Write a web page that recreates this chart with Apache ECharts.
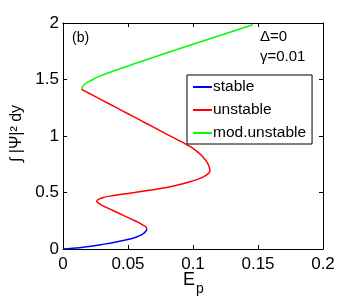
<!DOCTYPE html>
<html>
<head>
<meta charset="utf-8">
<script src="https://cdn.jsdelivr.net/npm/echarts@6/dist/echarts.min.js"></script>
<style>html,body{margin:0;padding:0;background:#fff}#c{width:357px;height:301px}</style>
</head>
<body>
<div id="c"></div>
<script>
// stable branch
var stableX = [0, 0.006, 0.0128, 0.02, 0.03, 0.04, 0.049, 0.055, 0.059, 0.062, 0.0637, 0.0645];
var stableY = [0, 0.005, 0.012, 0.022, 0.04, 0.06, 0.082, 0.1, 0.118, 0.138, 0.157, 0.177];
// unstable branch
var unstableX = [0.0645, 0.0638, 0.0615, 0.058, 0.053, 0.048, 0.043, 0.038, 0.033, 0.029, 0.0268, 0.026, 0.0265, 0.028, 0.031, 0.036, 0.045, 0.055, 0.065, 0.075, 0.085, 0.093, 0.099, 0.104, 0.108, 0.1105, 0.1122, 0.113, 0.1125, 0.111, 0.108, 0.104, 0.1, 0.095, 0.09, 0.08, 0.07, 0.06, 0.05, 0.04, 0.03, 0.022, 0.018, 0.0155, 0.0148, 0.0145];
var unstableY = [0.177, 0.195, 0.212, 0.235, 0.262, 0.289, 0.316, 0.343, 0.37, 0.393, 0.41, 0.421, 0.433, 0.444, 0.455, 0.468, 0.484, 0.5, 0.517, 0.535, 0.558, 0.58, 0.6, 0.618, 0.638, 0.655, 0.672, 0.69, 0.725, 0.765, 0.81, 0.855, 0.89, 0.924, 0.955, 1.015, 1.076, 1.136, 1.197, 1.257, 1.318, 1.366, 1.39, 1.405, 1.41, 1.416];
// modulationally unstable branch
var modX = [0.0145, 0.015, 0.0169, 0.02, 0.024, 0.0285, 0.034, 0.04, 0.05, 0.063, 0.08, 0.1, 0.12, 0.146];
var modY = [1.416, 1.435, 1.46, 1.483, 1.507, 1.53, 1.555, 1.58, 1.62, 1.671, 1.737, 1.812, 1.887, 1.985];
var xTicks = [0, 0.05, 0.1, 0.15, 0.2];
var yTicks = [0, 0.5, 1, 1.5, 2];

function zip(a, b) { return a.map(function (v, i) { return [v, b[i]]; }); }
var FONT = "'Liberation Sans', Arial, Helvetica, sans-serif";
var chart = echarts.init(document.getElementById('c'), null, {renderer: 'canvas'});
var axisCommon = {
  axisLine: {show: true, onZero: false, lineStyle: {color: '#000', width: 1}},
  axisTick: {show: true, inside: true, length: 4, lineStyle: {color: '#000'}},
  splitLine: {show: false}
};
function lineSeries(name, xs, ys, color) {
  return {name: name, type: 'line', data: zip(xs, ys), showSymbol: false, symbol: 'none',
    smooth: 0.4, lineStyle: {color: color, width: 1.5}, itemStyle: {color: color}};
}
chart.setOption({
  animation: false,
  backgroundColor: '#fff',
  textStyle: {fontFamily: FONT},
  grid: {left: 63, top: 23, width: 260, height: 226, containLabel: false},
  xAxis: [
    Object.assign({type: 'value', position: 'bottom', min: xTicks[0], max: xTicks[xTicks.length - 1], interval: 0.05,
      axisLabel: {color: '#000', fontSize: 17, fontFamily: FONT, margin: 7}}, axisCommon),
    Object.assign({type: 'value', position: 'top', min: xTicks[0], max: xTicks[xTicks.length - 1], interval: 0.05,
      axisLabel: {show: false}}, axisCommon)
  ],
  yAxis: [
    Object.assign({type: 'value', position: 'left', min: yTicks[0], max: yTicks[yTicks.length - 1], interval: 0.5,
      axisLabel: {color: '#000', fontSize: 17, fontFamily: FONT, margin: 4}}, axisCommon),
    Object.assign({type: 'value', position: 'right', min: yTicks[0], max: yTicks[yTicks.length - 1], interval: 0.5,
      axisLabel: {show: false}}, axisCommon)
  ],
  legend: {
    orient: 'vertical', left: 187, top: 75,
    padding: [4, 6, 3, 6], itemGap: 7, itemWidth: 19, itemHeight: 2, icon: 'rect',
    backgroundColor: '#fff', borderColor: '#000', borderWidth: 1, borderRadius: 0,
    textStyle: {color: '#000', fontSize: 15.5, fontFamily: FONT, lineHeight: 14, padding: [0, 0, 0, -4]},
    data: ['stable', 'unstable', 'mod.unstable']
  },
  series: [
    lineSeries('stable', stableX, stableY, '#0000ff'),
    lineSeries('unstable', unstableX, unstableY, '#ff0000'),
    lineSeries('mod.unstable', modX, modY, '#00ff00')
  ],
  graphic: [
    {type: 'text', left: 72, top: 31, style: {text: '(b)', fontSize: 14, fontFamily: FONT, fill: '#000'}},
    {type: 'text', left: 260, top: 29, style: {text: 'Δ=0', fontSize: 15, fontFamily: FONT, fill: '#000'}},
    {type: 'text', left: 260, top: 49, style: {text: 'γ=0.01', fontSize: 15, fontFamily: FONT, fill: '#000'}},
    {type: 'text', x: 17, y: 133.5, rotation: Math.PI / 2,
      style: {text: '∫ |Ψ|² dy', fontSize: 16, fontFamily: FONT, fill: '#000', align: 'center', verticalAlign: 'middle'}},
    {type: 'text', x: 183, y: 271, style: {text: 'E', fontSize: 18, fontFamily: FONT, fill: '#000'}},
    {type: 'text', x: 196, y: 282.5, style: {text: 'p', fontSize: 14, fontFamily: FONT, fill: '#000'}}
  ]
});
</script>
</body>
</html>
